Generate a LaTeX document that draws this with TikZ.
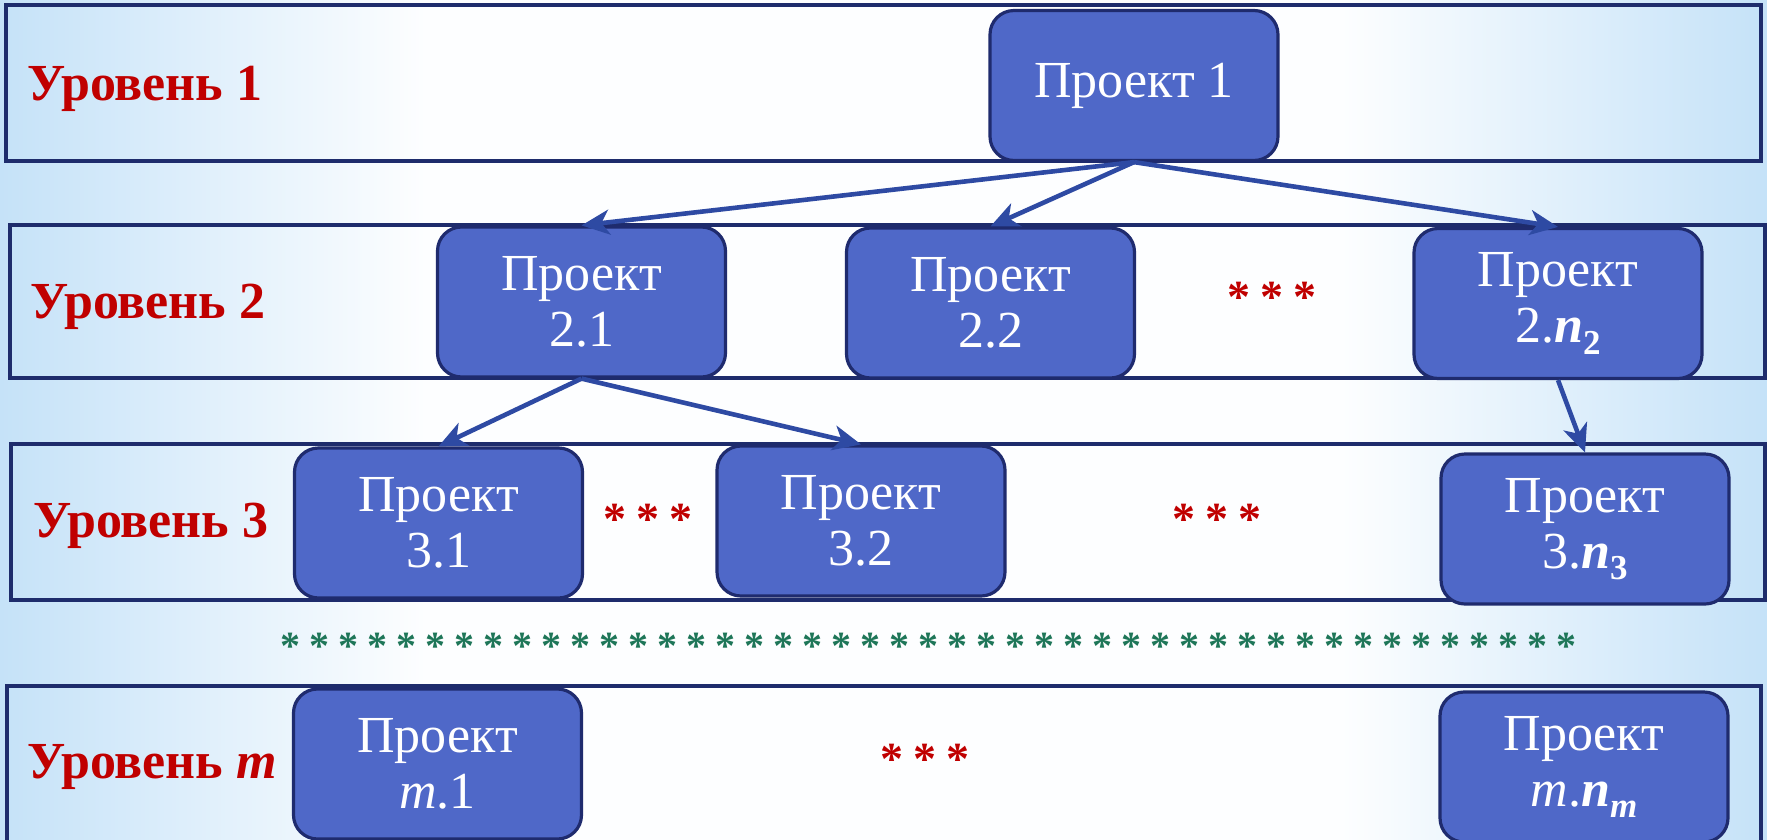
\documentclass[tikz,border=0pt]{standalone}
\usepackage{fontspec}
\setmainfont{Liberation Serif}
\usetikzlibrary{arrows.meta}
\definecolor{bgb}{RGB}{197,226,248}
\definecolor{nodefill}{RGB}{79,104,200}
\definecolor{nodeline}{RGB}{31,43,110}
\definecolor{bandline}{RGB}{30,44,108}
\definecolor{arrowc}{RGB}{46,74,163}
\definecolor{lvlred}{RGB}{192,0,0}
\definecolor{stargreen}{RGB}{30,118,88}
\pgfdeclarehorizontalshading{bgshade}{100bp}{color(0bp)=(bgb); color(25bp)=(bgb); color(37bp)=(white!96!bgb); color(63bp)=(white!96!bgb); color(75bp)=(bgb); color(100bp)=(bgb)}
\newcommand\subidx[1]{\raisebox{-0.22em}{\fontsize{35}{35}\selectfont\textbf{#1}}}
\newcommand\redstarfont{\fontsize{46}{50}\selectfont\bfseries\spaceskip=10pt\relax}
\newcommand\greenstarfont{\fontsize{40}{44}\selectfont\bfseries\spaceskip=9pt\relax}
\begin{document}
\begin{tikzpicture}[x=1pt,y=-1pt,
  proj/.style={draw=nodeline, line width=3.2pt, fill=nodefill, rounded corners=24pt,
    minimum width=288pt, minimum height=150pt, text=white, align=center,
    font=\fontsize{52}{56}\selectfont, inner sep=0pt},
  band/.style={draw=bandline, line width=3.5pt},
  lvl/.style={anchor=base west, text=lvlred, font=\fontsize{52}{56}\selectfont\bfseries, inner sep=0pt},
  redstars/.style={anchor=base, text=lvlred, font=\redstarfont, inner sep=0pt},
  greenstars/.style={anchor=base, text=stargreen, font=\greenstarfont, inner sep=0pt},
  link/.style={draw=arrowc, line width=4.6pt, -{Stealth[length=28pt,width=25pt,inset=8pt]}}
]
\useasboundingbox (0,0) rectangle (1767,839);
\clip (0,0) rectangle (1767,839);
\shade[shading=bgshade] (0,0) rectangle (1767,839);
% bands
\draw[band] (6,5) rectangle (1761,161);
\draw[band] (10,225) rectangle (1765,378);
\draw[band] (11,444) rectangle (1765,600);
\draw[band] (7,686) rectangle (1761,860);
% level labels
\node[lvl] (l1) at (27,100) {Уровень 1};
\node[lvl] (l2) at (30,318) {Уровень 2};
\node[lvl] (l3) at (33,537) {Уровень 3};
\node[lvl] (lm) at (27,778) {Уровень \textit{m}};
% project nodes
\node[proj] (p1) at (1134,85.5) {Проект 1};
\node[proj] (p21) at (581.5,302) {Проект\\2.1};
\node[proj] (p22) at (990.5,303) {Проект\\2.2};
\node[proj] (p2n) at (1558,303.5) {Проект\\2.\textbf{\textit{n}}\subidx{2}};
\node[proj] (p31) at (438.5,523) {Проект\\3.1};
\node[proj] (p32) at (861,521) {Проект\\3.2};
\node[proj] (p3n) at (1585,529) {Проект\\3.\textbf{\textit{n}}\subidx{3}};
\node[proj] (pm1) at (437.5,764) {Проект\\\textit{m}.1};
\node[proj] (pmn) at (1584,767) {Проект\\\textit{m}.\textbf{\textit{n}}\subidx{\textit{m}}};
% ellipses
\node[redstars] (s2) at (1272,312) {* * *};
\node[redstars] (s3a) at (648,534) {* * *};
\node[redstars] (s3b) at (1217,534) {* * *};
\node[redstars] (sm) at (925,774) {* * *};
\node[greenstars] (sg) at (928,659) {* * * * * * * * * * * * * * * * * * * * * * * * * * * * * * * * * * * * * * * * * * * * *};
% connectors
\draw[link] (p1.south) -- (p21.north);
\draw[link] (p1.south) -- (p22.north);
\draw[link] (p1.south) -- (p2n.north);
\draw[link] (p21.south) -- (p31.north);
\draw[link] (p21.south) -- (p32.north);
\draw[link] (p2n.south) -- (p3n.north);
\end{tikzpicture}
\end{document}
